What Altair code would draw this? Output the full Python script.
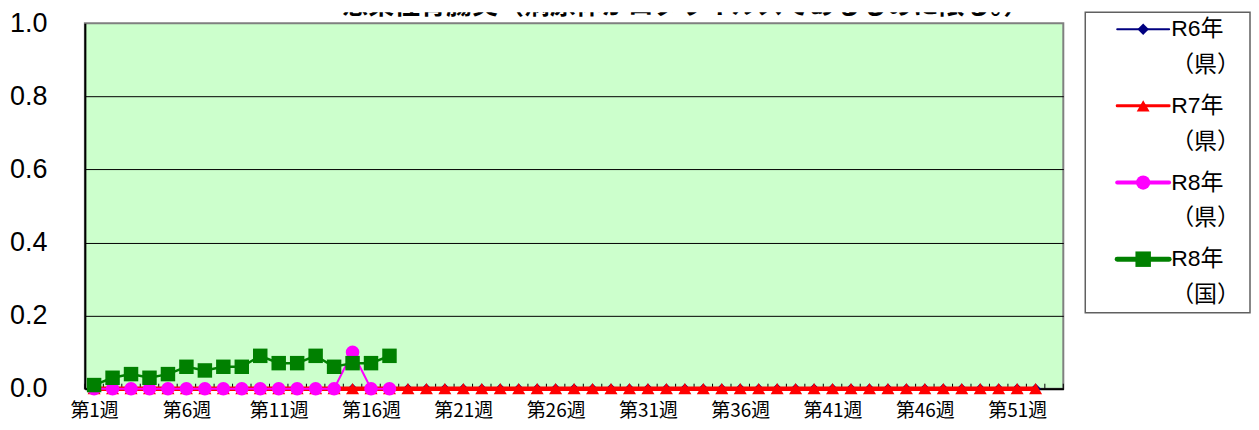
import altair as alt
import pandas as pd

# ---------------- data ----------------
title_text = "感染性胃腸炎（病原体がロタウイルスであるものに限る。）"

x_tick_weeks = [1, 6, 11, 16, 21, 26, 31, 36, 41, 46, 51]
y_tick_values = [0.0, 0.2, 0.4, 0.6, 0.8, 1.0]
n_weeks_axis = 53

series_keys = ["R6年（県）", "R7年（県）", "R8年（県）", "R8年（国）"]
series_labels = ["R6年\n（県）", "R7年\n（県）", "R8年\n（県）", "R8年\n（国）"]

r6_ken = [0.0, 0.0, 0.0, 0.0, 0.0, 0.0, 0.0, 0.0, 0.0, 0.0, 0.0, 0.0, 0.0,
          0.0, 0.0, 0.0, 0.0, 0.0, 0.0, 0.0, 0.0, 0.0, 0.0, 0.0, 0.0, 0.0,
          0.0, 0.0, 0.0, 0.0, 0.0, 0.0, 0.0, 0.0, 0.0, 0.0, 0.0, 0.0, 0.0,
          0.0, 0.0, 0.0, 0.0, 0.0, 0.0, 0.0, 0.0, 0.0, 0.0, 0.0, 0.0, 0.0]
r7_ken = [0.0, 0.0, 0.0, 0.0, 0.0, 0.0, 0.0, 0.0, 0.0, 0.0, 0.0, 0.0, 0.0,
          0.0, 0.0, 0.0, 0.0, 0.0, 0.0, 0.0, 0.0, 0.0, 0.0, 0.0, 0.0, 0.0,
          0.0, 0.0, 0.0, 0.0, 0.0, 0.0, 0.0, 0.0, 0.0, 0.0, 0.0, 0.0, 0.0,
          0.0, 0.0, 0.0, 0.0, 0.0, 0.0, 0.0, 0.0, 0.0, 0.0, 0.0, 0.0, 0.0]
r8_ken = [0.0, 0.0, 0.0, 0.0, 0.0, 0.0, 0.0, 0.0, 0.0, 0.0, 0.0, 0.0, 0.0,
          0.0, 0.1, 0.0, 0.0]
r8_kuni = [0.01, 0.03, 0.04, 0.03, 0.04, 0.06, 0.05, 0.06, 0.06, 0.09, 0.07,
           0.07, 0.09, 0.06, 0.07, 0.07, 0.09]

series_values = [r6_ken, r7_ken, r8_ken, r8_kuni]

# ---------------- styles ----------------
colors = ["#000080", "#FF0000", "#FF00FF", "#008000"]
shapes = ["diamond", "triangle-up", "circle", "square"]
marker_sizes = [110, 170, 185, 210]
line_widths = [1.5, 4.5, 2, 2.5]

W, H = 980, 366
CJK = "Noto Sans CJK JP"

x_scale = alt.Scale(domain=[0.5, n_weeks_axis + 0.5], nice=False, zero=False)
y_scale = alt.Scale(domain=[0, 1], nice=False)

x_axis = alt.Axis(
    values=x_tick_weeks,
    labelExpr="'第' + datum.value + '週'",
    title=None, grid=False, ticks=False, tickSize=0,
    labelFont=CJK, labelFontSize=19, labelColor="black",
    labelPadding=13, labelBaseline="top",
    domainColor="black", domainWidth=2,
)
y_axis = alt.Axis(
    values=y_tick_values, format=".1f", title=None,
    ticks=False, tickSize=0, labelPadding=38,
    labelFont="Liberation Sans", labelFontSize=27, labelColor="black",
    domainColor="black", domainWidth=2,
    grid=True, gridColor="black", gridWidth=1,
    gridOpacity={"condition": {"test": "datum.value >= 1", "value": 0}, "value": 1},
)

layers = []

# inward tick marks at category boundaries
edges = pd.DataFrame({"edge": [k + 0.5 for k in range(0, n_weeks_axis + 1)]})
layers.append(
    alt.Chart(edges).mark_rule(color="black", strokeWidth=1).encode(
        x=alt.X("edge:Q", scale=x_scale, axis=x_axis),
        y=alt.value(H),
        y2=alt.value(H - 5),
    )
)

for key, vals, col, shp, msz, lw in zip(series_keys, series_values, colors,
                                        shapes, marker_sizes, line_widths):
    df = pd.DataFrame({"week": list(range(1, len(vals) + 1)), "value": vals,
                       "series": key})
    base = alt.Chart(df).encode(
        x=alt.X("week:Q", scale=x_scale, axis=x_axis),
        y=alt.Y("value:Q", scale=y_scale, axis=y_axis),
    )
    layers.append(base.mark_line(color=col, strokeWidth=lw))
    layers.append(base.mark_point(color=col, shape=shp, size=msz,
                                  filled=True, opacity=1))

main = alt.layer(*layers).properties(
    width=W, height=H,
    view=alt.ViewBackground(fill="#CCFFCC", stroke="#808080", strokeWidth=2),
)

# clipped title strip (only the bottom of the title is visible)
title_strip = alt.Chart(pd.DataFrame({"t": [title_text]})).mark_text(
    clip=True, font=CJK, fontSize=26, fontWeight="bold",
    align="center", baseline="alphabetic", color="black",
).encode(
    x=alt.value(602), y=alt.value(2), text="t:N",
).properties(width=W, height=6,
             view=alt.ViewBackground(strokeOpacity=0, fill="white"))

left = alt.vconcat(title_strip, main, spacing=5, bounds="flush")

# legend panel
leg_df = pd.DataFrame({"idx": list(range(len(series_keys))),
                       "series": series_keys, "label": series_labels})
LH = 301
leg_y = alt.Y("idx:Q", scale=alt.Scale(domain=[-0.22, 3.7], reverse=True,
                                        nice=False, zero=False), axis=None)
col_enc = alt.Color("series:N", scale=alt.Scale(domain=series_keys, range=colors),
                    legend=None)
leg_base = alt.Chart(leg_df).encode(y=leg_y)
leg_lines = leg_base.mark_rule(strokeCap="round").encode(
    x=alt.value(32), x2=alt.value(84), color=col_enc,
    strokeWidth=alt.StrokeWidth("series:N", scale=alt.Scale(domain=series_keys,
                                range=[2, 5, 2, 2]), legend=None),
)
leg_pts = leg_base.mark_point(filled=True, opacity=1).encode(
    x=alt.value(58), color=col_enc,
    shape=alt.Shape("series:N", scale=alt.Scale(domain=series_keys, range=shapes),
                    legend=None),
    size=alt.Size("series:N", scale=alt.Scale(domain=series_keys,
                  range=[130, 240, 280, 230]), legend=None),
)
leg_text = leg_base.mark_text(
    align="left", baseline="middle", lineBreak="\n", lineHeight=36,
    font="Liberation Sans, Noto Sans CJK JP", fontSize=23, color="black",
).encode(x=alt.value(86), text="label:N")

legend = alt.layer(leg_lines, leg_pts, leg_text).properties(
    width=165, height=LH,
    view=alt.ViewBackground(fill="white", stroke="#606060", strokeWidth=1.5),
)

chart = alt.hconcat(left, legend, spacing=19).properties(
    padding=0, background="white"
).configure_text(font=CJK)

chart.save("out.html", embed_options={"renderer": "svg", "actions": False})
